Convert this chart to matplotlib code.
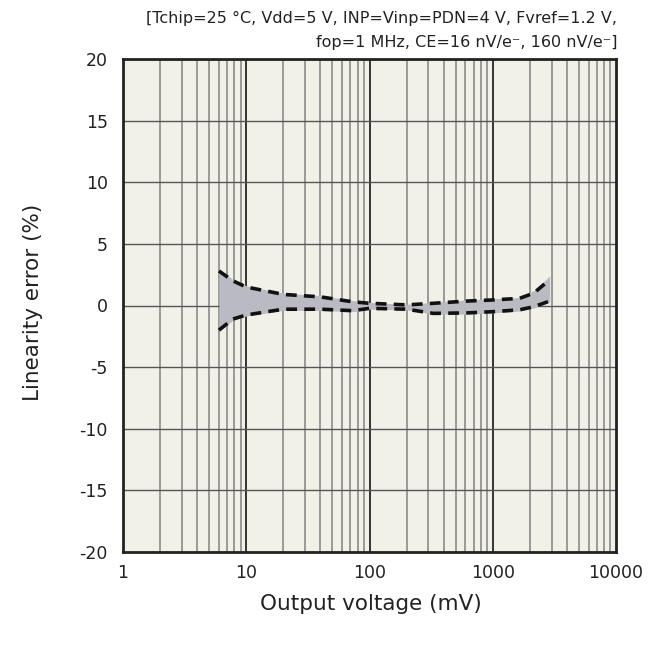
import numpy as np
import matplotlib.pyplot as plt

# values
volt = [6, 7.8, 10, 20, 40, 73, 100, 200, 330, 620, 1000, 1650, 2150, 2900]
err_upper = [2.8, 2.0, 1.5, 0.9, 0.7, 0.3, 0.18, 0.05, 0.18, 0.36, 0.45, 0.58, 1.0, 2.1]
err_lower = [-2.0, -1.1, -0.77, -0.3, -0.3, -0.42, -0.23, -0.3, -0.64, -0.6, -0.5, -0.35, -0.1, 0.36]
fill_upper = [3.0, 2.1, 1.6, 1.0, 0.8, 0.4, 0.25, 0.1, 0.25, 0.45, 0.55, 0.65, 1.2, 2.4]
fill_lower = [-2.1, -1.2, -0.85, -0.4, -0.4, -0.5, -0.3, -0.35, -0.7, -0.7, -0.6, -0.45, -0.2, 0.3]

yticks = [20, 15, 10, 5, 0, -5, -10, -15, -20]
xticks = [1, 10, 100, 1000, 10000]

plt.rcParams['font.family'] = ['DejaVu Sans']
txt = '#222222'

fig = plt.figure(figsize=(6.6, 6.51), dpi=100)
ax = fig.add_axes([123 / 660, 1 - 552 / 651, 493 / 660, 493 / 651])
ax.set_facecolor('#f2f1e8')
ax.set_xscale('log')
ax.set_xlim(1, 10000)
ax.set_ylim(-20, 20)

# grid lines
for dec in [1, 10, 100, 1000]:
    for m in range(2, 10):
        ax.axvline(dec * m, color='#8a8a8a', lw=1.2, zorder=1)
    if dec > 1:
        ax.axvline(dec, color='#333333', lw=1.4, zorder=1)
for yv in yticks:
    ax.axhline(yv, color='#555555', lw=1.0, zorder=1)

ax.fill_between(volt, fill_lower, fill_upper, color='#b9bac2', lw=0, zorder=2)
ax.plot(volt, err_upper, color='#111111', lw=2.6, ls=(0, (3, 2)), zorder=3)
ax.plot(volt, err_lower, color='#111111', lw=2.6, ls=(0, (3, 2)), zorder=3)

ax.set_xticks(xticks)
ax.set_xticklabels([str(v) for v in xticks])
ax.set_yticks(yticks)
ax.set_yticklabels([str(v) for v in yticks])
ax.minorticks_off()
ax.tick_params(axis='x', length=0, labelsize=12.5, pad=9, colors=txt)
ax.tick_params(axis='y', length=0, labelsize=12.5, pad=11, colors=txt)
for s in ax.spines.values():
    s.set_linewidth(2)
    s.set_color('#222222')

fig.text(371 / 660, 1 - 604 / 651, 'Output voltage (mV)', ha='center', va='center',
         fontsize=15.5, color=txt)
fig.text(33 / 660, 1 - 302 / 651, 'Linearity error (%)', ha='center', va='center',
         rotation=90, fontsize=15.5, color=txt)

fig.text(617 / 660, 1 - 18 / 651,
         '[Tchip=25 °C, Vdd=5 V, INP=Vinp=PDN=4 V, Fvref=1.2 V,',
         ha='right', va='center', fontsize=11.5, color=txt)
fig.text(617 / 660, 1 - 42 / 651,
         'fop=1 MHz, CE=16 nV/e\u207b, 160 nV/e\u207b]',
         ha='right', va='center', fontsize=11.5, color=txt)

fig.savefig('out.png', dpi=100)
